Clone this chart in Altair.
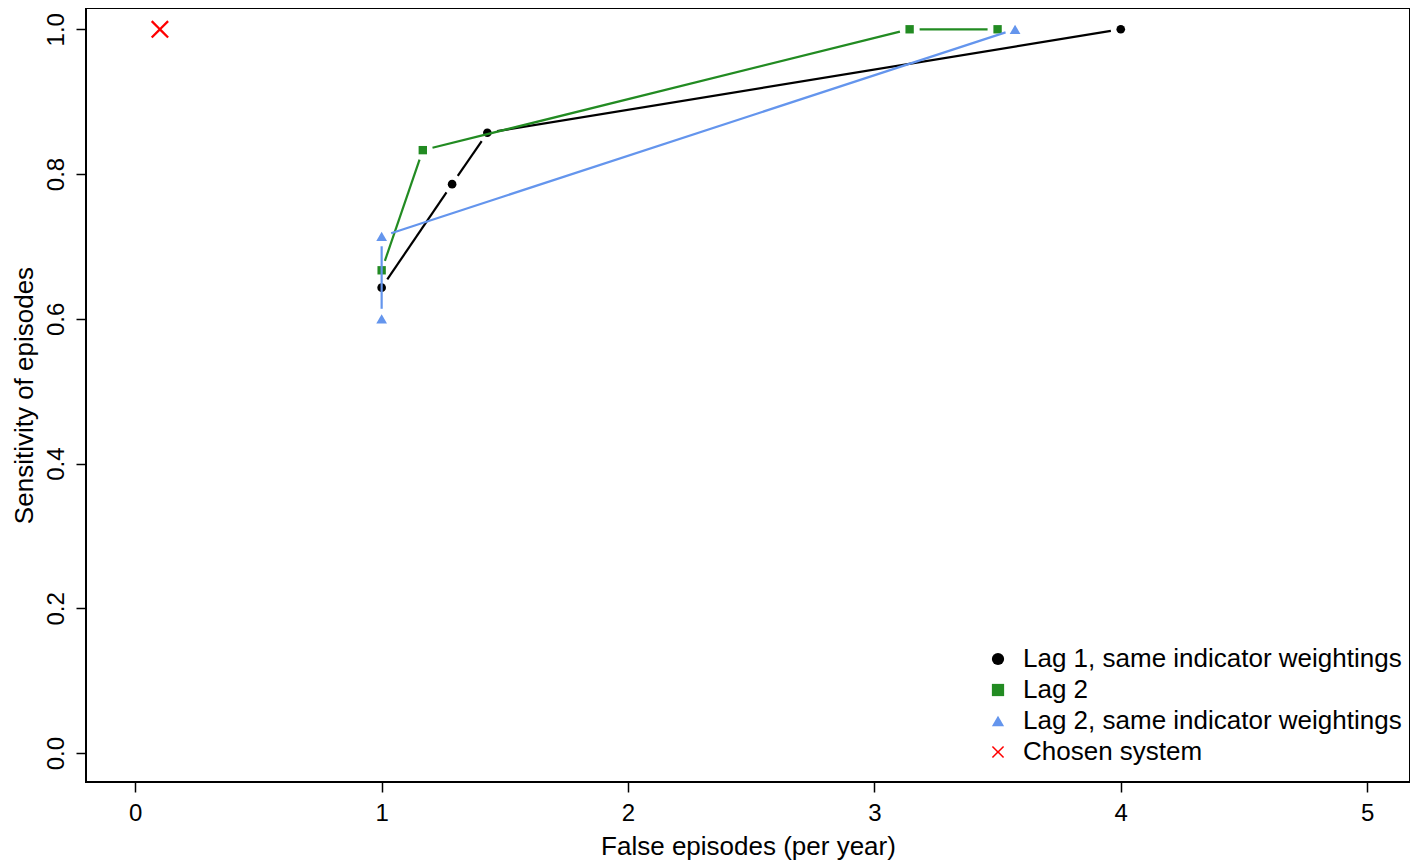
import math
import altair as alt
import pandas as pd

# ---- data ----
series_names = [
    "Lag 1, same indicator weightings",
    "Lag 2",
    "Lag 2, same indicator weightings",
    "Chosen system",
]
lag1_x = [1.0, 1.286, 1.429, 4.0]
lag1_y = [0.643, 0.786, 0.857, 1.0]
lag2_x = [1.0, 1.167, 3.143, 3.5]
lag2_y = [0.667, 0.833, 1.0, 1.0]
lag2s_x = [1.0, 1.0, 3.571]
lag2s_y = [0.6, 0.714, 1.0]
chosen_x = [0.1]
chosen_y = [1.0]

x_ticks = [0, 1, 2, 3, 4, 5]
y_ticks = [0.0, 0.2, 0.4, 0.6, 0.8, 1.0]

# ---- styling ----
colors = ["#000000", "#228B22", "#6495ED", "#FF0000"]
X_PATH = ("M-1,-0.82L-0.82,-1L0,-0.18L0.82,-1L1,-0.82L0.18,0L1,0.82L0.82,1"
          "L0,0.18L-0.82,1L-1,0.82L-0.18,0Z")
shapes = ["circle", "square", "triangle-up", X_PATH]
sizes = [75, 70, 115, 324]
has_line = [True, True, True, False]

XDOM = [-0.2, 5.174]
YDOM = [-0.04, 1.0294]
W, H = 1324, 774
GAP = 10  # px gap around points on lines (R type="b")
FONT = "Liberation Sans"

sx = W / (XDOM[1] - XDOM[0])
sy = H / (YDOM[1] - YDOM[0])

all_x = [lag1_x, lag2_x, lag2s_x, chosen_x]
all_y = [lag1_y, lag2_y, lag2s_y, chosen_y]

xscale = alt.Scale(domain=XDOM, nice=False, zero=False)
yscale = alt.Scale(domain=YDOM, nice=False, zero=False)

xaxis = alt.Axis(values=x_ticks, format="d", title="False episodes (per year)",
                 grid=False, domain=False, tickSize=10, tickWidth=1.5,
                 tickColor="black", labelFontSize=24, labelPadding=9,
                 labelFont=FONT, labelColor="black", titleFont=FONT,
                 titleFontSize=26, titleFontWeight="normal", titleColor="black",
                 titlePadding=8)
yaxis = alt.Axis(values=y_ticks, format=".1f", title="Sensitivity of episodes",
                 grid=False, domain=False, tickSize=10, tickWidth=1.5,
                 tickColor="black", labelFontSize=24, labelAngle=270,
                 labelAlign="center", labelBaseline="bottom", labelPadding=8,
                 labelFont=FONT, labelColor="black", titleFont=FONT,
                 titleFontSize=26, titleFontWeight="normal", titleColor="black",
                 titlePadding=7)

legend = alt.Legend(title=None, orient="none", legendX=899, legendY=638,
                    symbolSize=150)
color_enc = alt.Color("series:N",
                      scale=alt.Scale(domain=series_names, range=colors),
                      legend=legend)
shape_enc = alt.Shape("series:N",
                      scale=alt.Scale(domain=series_names, range=shapes),
                      legend=legend)

X_ENC = alt.X("x:Q", scale=xscale, axis=xaxis)
Y_ENC = alt.Y("y:Q", scale=yscale, axis=yaxis)

layers = []
for i, name in enumerate(series_names):
    xs, ys = all_x[i], all_y[i]
    if has_line[i]:
        segs = []
        for k in range(len(xs) - 1):
            x0, y0, x1, y1 = xs[k], ys[k], xs[k + 1], ys[k + 1]
            L = math.hypot((x1 - x0) * sx, (y1 - y0) * sy)
            t = GAP / L if L > 0 else 0
            segs.append({
                "x": x0 + t * (x1 - x0), "y": y0 + t * (y1 - y0),
                "x2": x1 - t * (x1 - x0), "y2": y1 - t * (y1 - y0),
            })
        seg_df = pd.DataFrame(segs)
        layers.append(
            alt.Chart(seg_df).mark_rule(color=colors[i], strokeWidth=2.2).encode(
                x=X_ENC, y=Y_ENC, x2="x2:Q", y2="y2:Q",
            )
        )
    pts = pd.DataFrame({"x": xs, "y": ys, "series": [name] * len(xs)})
    layers.append(
        alt.Chart(pts).mark_point(filled=True, opacity=1, size=sizes[i]).encode(
            x=X_ENC, y=Y_ENC, color=color_enc, shape=shape_enc,
        )
    )

chart = alt.layer(*layers).properties(
    width=W, height=H,
    autosize=alt.AutoSizeParams(type="none"),
    padding={"left": 78, "top": 0, "right": 0, "bottom": 78},
).configure_view(
    stroke="black", strokeWidth=2
).configure_legend(
    labelFont=FONT, labelFontSize=26, labelColor="black", symbolSize=150,
    labelOffset=12, rowPadding=5, symbolStrokeWidth=0, labelLimit=600,
    symbolOpacity=1
)

chart.save("out.html", embed_options={"renderer": "svg", "actions": False})
